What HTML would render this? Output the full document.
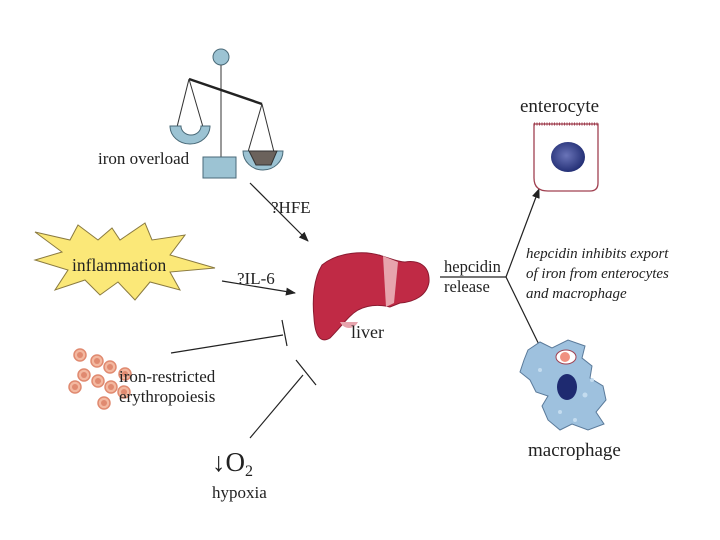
<!DOCTYPE html>
<html><head><meta charset="utf-8"><style>
html,body{margin:0;padding:0;background:#fff;}
svg{display:block;}
text{font-family:"Liberation Serif",serif;fill:#222;}
</style></head><body>
<svg width="720" height="540" viewBox="0 0 720 540" xmlns="http://www.w3.org/2000/svg">
<defs>
<marker id="ah" markerWidth="10" markerHeight="8" refX="9" refY="4" orient="auto" markerUnits="userSpaceOnUse">
<path d="M0,0 L10,4 L0,8 Z" fill="#222"/></marker>
<radialGradient id="nuc" cx="0.45" cy="0.45" r="0.6"><stop offset="0" stop-color="#6a74b8"/><stop offset="1" stop-color="#1e2a70"/></radialGradient>
</defs>
<!-- scale -->
<circle cx="221" cy="57" r="8" fill="#9cc3d3" stroke="#4a6a78"/>
<line x1="221" y1="65" x2="221" y2="158" stroke="#555" stroke-width="1.2"/>
<line x1="189" y1="79" x2="262" y2="104" stroke="#222" stroke-width="2.5"/>
<line x1="189" y1="79" x2="177" y2="127" stroke="#333"/>
<line x1="189" y1="79" x2="203" y2="127" stroke="#333"/>
<line x1="262" y1="104" x2="248" y2="152" stroke="#333"/>
<line x1="262" y1="104" x2="274" y2="152" stroke="#333"/>
<path d="M170,126 L181,126 A10,9 0 0 0 201,126 L210,126 A20,18 0 0 1 170,126 Z" fill="#9cc3d3" stroke="#4a6a78"/>
<path d="M243,151 L283,151 A20,19 0 0 1 243,151 Z" fill="#9cc3d3" stroke="#4a6a78"/>
<path d="M249,151 L277,151 L271,165 L256,165 Z" fill="#6b625c" stroke="#333"/>
<rect x="203" y="157" width="33" height="21" fill="#9cc3d3" stroke="#4a6a78"/>
<text x="98" y="164" font-size="17">iron overload</text>
<!-- HFE -->
<text x="271" y="213" font-size="17">?HFE</text>
<line x1="250" y1="183" x2="308" y2="241" stroke="#222" stroke-width="1.2" marker-end="url(#ah)"/>
<!-- inflammation -->
<polygon points="35,232 70,240 78,225 98,240 112,228 120,240 145,223 152,240 185,235 170,255 215,268 170,272 180,290 150,282 135,300 118,282 100,295 85,280 55,290 68,270 35,260 62,252" fill="#fbe878" stroke="#8a7a40"/>
<text x="72" y="271" font-size="17.5">inflammation</text>
<text x="237" y="284" font-size="17">?IL-6</text>
<line x1="222" y1="281" x2="295" y2="293" stroke="#222" stroke-width="1.2" marker-end="url(#ah)"/>
<!-- iron restricted -->
<line x1="171" y1="353" x2="283" y2="335" stroke="#222" stroke-width="1.2"/>
<line x1="282" y1="320" x2="287" y2="346" stroke="#222" stroke-width="1.2"/>
<g fill="#f3b8a0" stroke="#e08a70" stroke-width="1.5">
<circle cx="80" cy="355" r="6"/><circle cx="97" cy="361" r="6"/><circle cx="110" cy="367" r="6"/>
<circle cx="84" cy="375" r="6"/><circle cx="98" cy="381" r="6"/><circle cx="125" cy="374" r="6"/>
<circle cx="75" cy="387" r="6"/><circle cx="111" cy="387" r="6"/><circle cx="124" cy="392" r="6"/>
<circle cx="104" cy="403" r="6"/>
</g>
<g fill="#e08a70"><circle cx="80" cy="355" r="3"/><circle cx="97" cy="361" r="3"/><circle cx="110" cy="367" r="3"/><circle cx="84" cy="375" r="3"/><circle cx="98" cy="381" r="3"/><circle cx="125" cy="374" r="3"/><circle cx="75" cy="387" r="3"/><circle cx="111" cy="387" r="3"/><circle cx="124" cy="392" r="3"/><circle cx="104" cy="403" r="3"/></g>
<text x="119" y="382" font-size="17">iron-restricted</text>
<text x="119" y="402" font-size="17">erythropoiesis</text>
<!-- hypoxia -->
<line x1="250" y1="438" x2="303" y2="375" stroke="#222" stroke-width="1.2"/>
<line x1="296" y1="360" x2="316" y2="385" stroke="#222" stroke-width="1.2"/>
<text x="212" y="471" font-size="27">↓O<tspan font-size="16" dy="5">2</tspan></text>
<text x="212" y="498" font-size="17">hypoxia</text>
<!-- liver -->
<path d="M322,265 C338,252 365,250 382,256 C392,259 398,262 405,262 C418,260 430,265 429,282 C427,295 415,302 400,303 L390,307 C378,304 368,305 358,310 C348,316 342,326 330,338 C320,344 315,335 314,318 C312,298 314,278 322,265 Z" fill="#c02a45" stroke="#8a1a30"/>
<path d="M383,256 L398,262 L394,303 L386,307 Z" fill="#e7a4ad"/>
<path d="M340,322 C344,330 354,330 358,322 Z" fill="#e7a4ad"/>
<text x="351" y="338" font-size="18">liver</text>
<!-- hepcidin -->
<text x="444" y="272" font-size="16.5">hepcidin</text>
<line x1="440" y1="277" x2="506" y2="277" stroke="#222" stroke-width="1.2"/>
<text x="444" y="292" font-size="16.5">release</text>
<line x1="506" y1="277" x2="539" y2="189" stroke="#222" stroke-width="1.2" marker-end="url(#ah)"/>
<line x1="506" y1="277" x2="547" y2="361" stroke="#222" stroke-width="1.2" marker-end="url(#ah)"/>
<text font-size="15" font-style="italic"><tspan x="526" y="258">hepcidin inhibits export</tspan><tspan x="526" y="278">of iron from enterocytes</tspan><tspan x="526" y="298">and macrophage</tspan></text>
<!-- enterocyte -->
<text x="520" y="112" font-size="19">enterocyte</text>
<path d="M534,124 L598,124 L598,183 Q598,191 590,191 L548,191 Q534,191 534,178 Z" fill="#fff" stroke="#a04050" stroke-width="1.3"/>
<line x1="534" y1="124" x2="598" y2="124" stroke="#a04050" stroke-width="3" stroke-dasharray="1,1.5"/>
<ellipse cx="568" cy="157" rx="17" ry="15" fill="url(#nuc)"/>
<!-- macrophage -->
<path d="M528,350 L540,342 L552,348 L568,340 L585,346 L582,358 L592,366 L590,378 L603,386 L606,400 L596,412 L604,424 L588,430 L572,424 L560,430 L548,420 L542,406 L548,396 L536,392 L530,380 L520,372 L524,360 Z" fill="#9ec1de" stroke="#5a7a9a"/>
<g fill="#c4dcef"><circle cx="540" cy="370" r="2"/><circle cx="585" cy="395" r="2.5"/><circle cx="560" cy="412" r="2"/><circle cx="592" cy="380" r="2"/><circle cx="575" cy="420" r="2"/></g>
<ellipse cx="566" cy="357" rx="10" ry="7" fill="#fff" stroke="#a04050"/>
<circle cx="565" cy="357" r="5" fill="#f09080"/>
<ellipse cx="567" cy="387" rx="10" ry="13" fill="#1e2a70"/>
<text x="528" y="456" font-size="19">macrophage</text>
</svg>
</body></html>
